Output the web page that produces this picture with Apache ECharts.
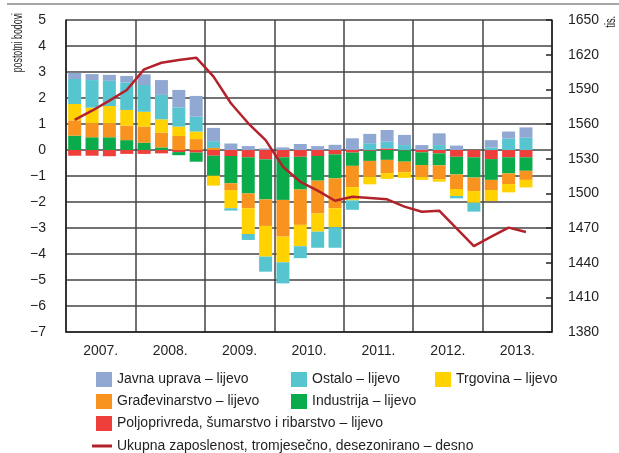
<!DOCTYPE html>
<html>
<head>
<meta charset="utf-8">
<script src="https://cdn.jsdelivr.net/npm/echarts@6/dist/echarts.min.js"></script>
<style>
  html, body { margin: 0; padding: 0; background: #fff; }
  #chart { width: 619px; height: 453px; }
</style>
</head>
<body>
<div id="chart"></div>
<script>
// kvartali 2007 Q1 - 2013 Q4 (zadnji prazan)
const quarters = []
for (let y = 2007; y <= 2013; y++) {
  for (let q = 1; q <= 4; q++) quarters.push(y + 'Q' + q)
}
const years = ['2007.', '2008.', '2009.', '2010.', '2011.', '2012.', '2013.']

const poljoprivreda = [-0.22, -0.22, -0.24, -0.15, -0.15, -0.13, -0.08, -0.10, -0.22, -0.23, -0.28, -0.36, -0.28, -0.26, -0.23, -0.17, -0.10, -0.03, 0.06, -0.02, -0.09, -0.13, -0.26, -0.28, -0.35, -0.28, -0.28]
const industrija = [0.55, 0.49, 0.49, 0.38, 0.28, 0.10, -0.12, -0.35, -0.77, -1.05, -1.39, -1.54, -1.64, -1.26, -0.95, -0.92, -0.51, -0.39, -0.38, -0.43, -0.49, -0.46, -0.68, -0.78, -0.80, -0.62, -0.52]
const gradjevinarstvo = [0.59, 0.54, 0.54, 0.56, 0.62, 0.57, 0.54, 0.42, 0.08, -0.26, -0.57, -1.02, -1.41, -1.36, -1.26, -1.15, -0.82, -0.61, -0.51, -0.41, -0.45, -0.53, -0.56, -0.52, -0.39, -0.41, -0.35]
const trgovina = [0.63, 0.60, 0.66, 0.60, 0.57, 0.51, 0.36, 0.29, -0.38, -0.70, -0.99, -1.18, -0.99, -0.82, -0.70, -0.73, -0.51, -0.29, -0.22, -0.21, -0.12, -0.10, -0.27, -0.45, -0.42, -0.32, -0.29]
const ostalo = [0.96, 1.06, 0.97, 1.06, 1.03, 0.94, 0.74, 0.57, 0.26, -0.09, -0.23, -0.58, -0.81, -0.46, -0.62, -0.79, -0.36, 0.26, 0.26, 0.19, 0, 0.19, -0.09, -0.34, 0.10, 0.44, 0.47]
const javnaUprava = [0.24, 0.23, 0.23, 0.25, 0.41, 0.57, 0.67, 0.80, 0.51, 0.25, 0.15, 0.06, 0.10, 0.23, 0.15, 0.20, 0.45, 0.36, 0.45, 0.39, 0.19, 0.45, 0.17, 0, 0.28, 0.27, 0.40]
const zaposlenost = [1563.5, 1571.5, 1580.2, 1589.4, 1607.3, 1613, 1615.4, 1617.4, 1601, 1578, 1560.6, 1546, 1523, 1510, 1502.3, 1493.6, 1497, 1496, 1494.8, 1488.5, 1484.1, 1485, 1469.7, 1454.4, 1462.5, 1470.3, 1466.5]

const FONT = '"Liberation Sans", Arial, sans-serif'
const TXT = '#231f20'
const GRIDC = '#444'

const names = {
  pol: 'Poljoprivreda, šumarstvo i ribarstvo – lijevo',
  ind: 'Industrija – lijevo',
  gra: 'Građevinarstvo – lijevo',
  trg: 'Trgovina – lijevo',
  ost: 'Ostalo – lijevo',
  jav: 'Javna uprava – lijevo',
  zap: 'Ukupna zaposlenost, tromjesečno, desezonirano – desno'
}

const barSeries = (name, data, color) => ({
  name,
  type: 'bar',
  stack: 'sektori',
  xAxisIndex: 0,
  yAxisIndex: 0,
  barWidth: 13,
  data,
  itemStyle: { color }
})

const legendBase = {
  orient: 'vertical',
  icon: 'rect',
  padding: 0,
  itemWidth: 16,
  itemHeight: 15,
  itemGap: 7,
  selectedMode: false,
  textStyle: { fontFamily: FONT, fontSize: 14, color: TXT }
}

const chart = echarts.init(document.getElementById('chart'))

const option = {
  animation: false,
  grid: { left: 66, right: 67, top: 20, bottom: 121 },
  legend: [
    { ...legendBase, left: 96, top: 372, data: [names.jav, names.gra, names.pol] },
    { ...legendBase, left: 291, top: 372, data: [names.ost, names.ind] },
    { ...legendBase, left: 435, top: 372, data: [names.trg] },
    { ...legendBase, left: 92, top: 439, itemWidth: 20, itemHeight: 3, data: [{ name: names.zap, icon: 'rect' }] }
  ],
  graphic: [
    {
      type: 'line',
      shape: { x1: 7, y1: 4, x2: 619, y2: 4 },
      style: { stroke: '#8a8a8a', lineWidth: 1.5 }
    },
    {
      type: 'text',
      x: 18,
      y: 13,
      rotation: Math.PI / 2,
      scaleX: 0.63,
      style: { text: 'postotni bodovi', fontFamily: FONT, fontSize: 14, fill: TXT, align: 'right', verticalAlign: 'middle' }
    },
    {
      type: 'text',
      x: 611,
      y: 16,
      rotation: Math.PI / 2,
      scaleX: 0.65,
      style: { text: 'tis.', fontFamily: FONT, fontSize: 14, fill: TXT, align: 'right', verticalAlign: 'middle' }
    }
  ],
  xAxis: [
    {
      type: 'category',
      data: quarters,
      show: false
    },
    {
      type: 'category',
      data: years,
      position: 'bottom',
      axisLine: { lineStyle: { color: '#222', width: 1.5 } },
      axisTick: { show: false },
      axisLabel: { fontFamily: FONT, fontSize: 14, color: TXT, margin: 12 },
      splitLine: { show: true, lineStyle: { color: GRIDC, width: 1.5 } }
    }
  ],
  yAxis: [
    {
      type: 'value',
      min: -7,
      max: 5,
      interval: 1,
      axisLine: { show: true, lineStyle: { color: '#222', width: 1.5 } },
      axisTick: { show: false },
      axisLabel: {
        fontFamily: FONT,
        fontSize: 14,
        color: TXT,
        margin: 20,
        formatter: v => String(v).replace('-', '\u2212')
      },
      splitLine: { show: true, lineStyle: { color: GRIDC, width: 1.5 } }
    },
    {
      type: 'value',
      position: 'right',
      min: 1380,
      max: 1650,
      interval: 30,
      axisLine: { show: true, lineStyle: { color: '#222', width: 1.5 } },
      axisTick: { show: true, inside: true, length: 6, lineStyle: { color: '#222', width: 1.5 } },
      axisLabel: { fontFamily: FONT, fontSize: 14, color: TXT, margin: 16, formatter: v => String(v) },
      splitLine: { show: false }
    }
  ],
  series: [
    barSeries(names.pol, poljoprivreda, '#ee3f3b'),
    barSeries(names.ind, industrija, '#0aab4b'),
    barSeries(names.gra, gradjevinarstvo, '#f7931e'),
    barSeries(names.trg, trgovina, '#ffd200'),
    barSeries(names.ost, ostalo, '#56c5d0'),
    barSeries(names.jav, javnaUprava, '#91a9d2'),
    {
      name: names.zap,
      type: 'line',
      xAxisIndex: 0,
      yAxisIndex: 1,
      data: zaposlenost,
      symbol: 'none',
      z: 5,
      lineStyle: { color: '#b3222b', width: 2.5 },
      itemStyle: { color: '#b3222b' }
    }
  ]
}

chart.setOption(option)

window.addEventListener('resize', () => {
  chart.resize()
})
</script>
</body>
</html>
